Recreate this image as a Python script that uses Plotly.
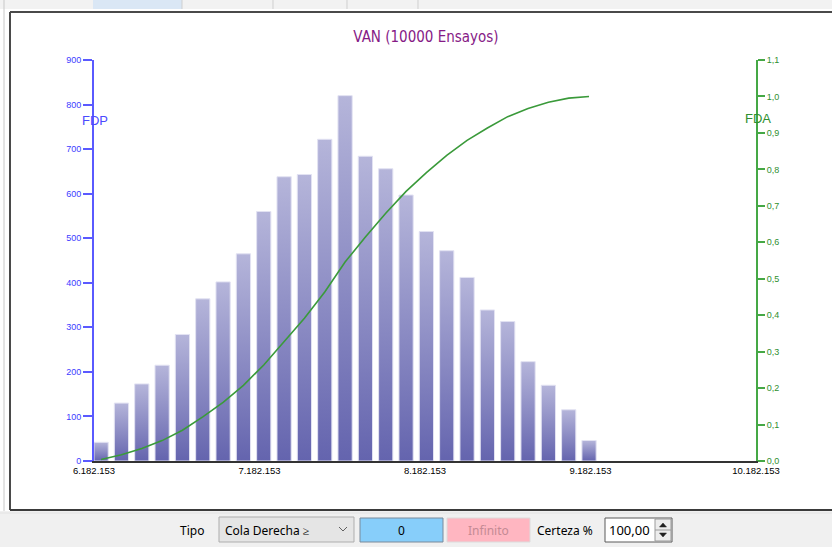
import plotly.graph_objects as go

# Frequency histogram of the simulated NPV (VAN) and its cumulative curve
n_trials = 10000
bin_start = 6182153
bin_width = 122840
bar_fraction = 0.7
counts = [42, 130, 173, 215, 284, 364, 402, 465, 560, 638, 643, 722, 820,
          684, 656, 597, 515, 472, 412, 339, 313, 223, 170, 115, 46]

x_ticks = [6182153, 7182153, 8182153, 9182153, 10182153]
pdf_ticks = [0, 100, 200, 300, 400, 500, 600, 700, 800, 900]
cdf_ticks = [0.0, 0.1, 0.2, 0.3, 0.4, 0.5, 0.6, 0.7, 0.8, 0.9, 1.0, 1.1]

title_text = "VAN (10000 Ensayos)"
pdf_label = "FDP"
cdf_label = "FDA"

W, H = 832, 547
ML, MR, MT, MB = 94, 76, 60, 86
PW, PH = W - ML - MR, H - MT - MB

BLUE = "#4b4bff"
GREEN = "#45a845"
GREEN_TXT = "#2f8f2f"

fig = go.Figure()

# bars: one filled outline per bin, shaded dark at the base to light at the top
for i, c in enumerate(counts):
    x0 = bin_start + i * bin_width
    x1 = x0 + bar_fraction * bin_width
    fig.add_trace(go.Scatter(
        x=[x0, x0, x1, x1, x0], y=[0, c, c, 0, 0],
        mode="lines", fill="toself",
        line=dict(color="#e2e2f2", width=1),
        fillgradient=dict(type="vertical", start=0, stop=c,
                          colorscale=[[0, "#6464ae"], [1, "#b5b5da"]]),
        hoverinfo="text", text=f"{c}", showlegend=False,
    ))

# cumulative distribution evaluated at the bar centres
centres = [bin_start + (i + bar_fraction / 2) * bin_width for i in range(len(counts))]
total = sum(counts)
cdf, run = [], 0
for c in counts:
    run += c
    cdf.append(run / total)

fig.add_trace(go.Scatter(
    x=centres, y=cdf, yaxis="y2", mode="lines",
    line=dict(color="#3a9a3a", width=1.6), showlegend=False,
))


def pxx(x):
    return (x - ML) / PW


def pyy(y):
    return (H - MB - y) / PH


shapes = []
annotations = []


def rect(x0, y0, x1, y1, fill, line=None, lw=1):
    shapes.append(dict(type="rect", xref="paper", yref="paper",
                       x0=pxx(x0), x1=pxx(x1), y0=pyy(y1), y1=pyy(y0),
                       fillcolor=fill,
                       line=dict(color=line or fill, width=lw if line else 0)))


def seg(x0, y0, x1, y1, color, lw=1):
    shapes.append(dict(type="line", xref="paper", yref="paper",
                       x0=pxx(x0), x1=pxx(x1), y0=pyy(y0), y1=pyy(y1),
                       line=dict(color=color, width=lw)))


def label(x, y, text, color="black", size=12, anchor="left", family="Noto Sans"):
    annotations.append(dict(xref="paper", yref="paper", x=pxx(x), y=pyy(y),
                            text=text, showarrow=False, xanchor=anchor,
                            yanchor="middle",
                            font=dict(family=family, size=size, color=color)))


# window chrome: tab strip, frame and bottom control bar
rect(0, 0, W, 9, "#f2f2f2")
rect(93, 0, 182, 9, "#dae7f5")
for sx in (182, 273, 347, 418):
    seg(sx, 0, sx, 9, "#cfcfcf")
seg(4, 0, 4, 547, "#c8c8c8")
seg(10, 12, W, 12, "#4a4a4a", 2)
seg(10, 12, 10, 510, "#4a4a4a", 2)
rect(0, 511, W, H, "#f0f0f0")
seg(10, 510, W, 510, "#3a3a3a", 2)
seg(0, 513, W, 513, "#e2e2e2", 1)

label(206, 530, "Tipo", size=12, anchor="right")
rect(219, 517, 354, 542, "#e5e5e5", "#adadad")
label(223, 530, "Cola Derecha ≥", size=12)
shapes.append(dict(type="path", xref="paper", yref="paper",
                   path=f"M {pxx(339)},{pyy(527)} L {pxx(343)},{pyy(531)} L {pxx(347)},{pyy(527)}",
                   line=dict(color="#606060", width=1)))
rect(360, 518, 443, 542, "#87cefa", "#7a8a9a")
label(401.5, 530, "0", size=12, anchor="center")
rect(447, 518, 530, 542, "#ffb6c1", "#dcdcdc")
label(488.5, 530, "Infinito", color="#c48a94", size=12, anchor="center")
label(535, 530, "Certeza %", size=12)
rect(605, 518, 672, 542, "#ffffff", "#5a5a5a")
label(607, 530, "100,00", size=13)
rect(655, 519, 671, 541, "#ececec", "#9a9a9a")
seg(655, 530, 671, 530, "#9a9a9a")
shapes.append(dict(type="path", xref="paper", yref="paper",
                   path=f"M {pxx(659.5)},{pyy(527)} L {pxx(666.5)},{pyy(527)} L {pxx(663)},{pyy(523)} Z",
                   fillcolor="#202020", line=dict(color="#202020", width=0.5)))
shapes.append(dict(type="path", xref="paper", yref="paper",
                   path=f"M {pxx(659.5)},{pyy(533)} L {pxx(666.5)},{pyy(533)} L {pxx(663)},{pyy(537)} Z",
                   fillcolor="#202020", line=dict(color="#202020", width=0.5)))

# axis captions
label(94.5, 120, pdf_label, color=BLUE, size=13, anchor="center", family="Arial")
label(757.5, 118, cdf_label, color=GREEN_TXT, size=13, anchor="center", family="Arial")

fig.update_layout(
    width=W, height=H,
    margin=dict(l=ML, r=MR, t=MT, b=MB),
    paper_bgcolor="white", plot_bgcolor="white",
    separators=",.",
    showlegend=False,
    title=dict(text=title_text, x=426 / W, xanchor="center",
               y=1 - 37 / H, yref="container", yanchor="middle",
               font=dict(family="DejaVu Sans Condensed, Liberation Sans Narrow, Arial",
                         size=15, color="#861a86")),
    xaxis=dict(range=[x_ticks[0], x_ticks[-1]], tickvals=x_ticks, tickformat=",d",
               showgrid=False, zeroline=False, showline=True,
               linecolor="#333333", linewidth=1.5, ticks="",
               tickfont=dict(family="Arial", size=9.5, color="black")),
    yaxis=dict(range=[0, 900], tickvals=pdf_ticks, showgrid=False, zeroline=False,
               showline=True, linecolor="#5a5aff", linewidth=2,
               ticks="outside", ticklen=9, tickwidth=2, tickcolor="#5a5aff",
               tickfont=dict(family="Arial", size=9, color="#3c3cff")),
    yaxis2=dict(range=[0, 1.1], tickvals=cdf_ticks, tickformat=".1f",
                overlaying="y", side="right", showgrid=False, zeroline=False,
                showline=True, linecolor=GREEN, linewidth=2,
                ticks="outside", ticklen=7, tickwidth=2, tickcolor=GREEN,
                tickfont=dict(family="Arial", size=9, color=GREEN_TXT)),
    shapes=shapes,
    annotations=annotations,
)

fig.write_html("out.html")
